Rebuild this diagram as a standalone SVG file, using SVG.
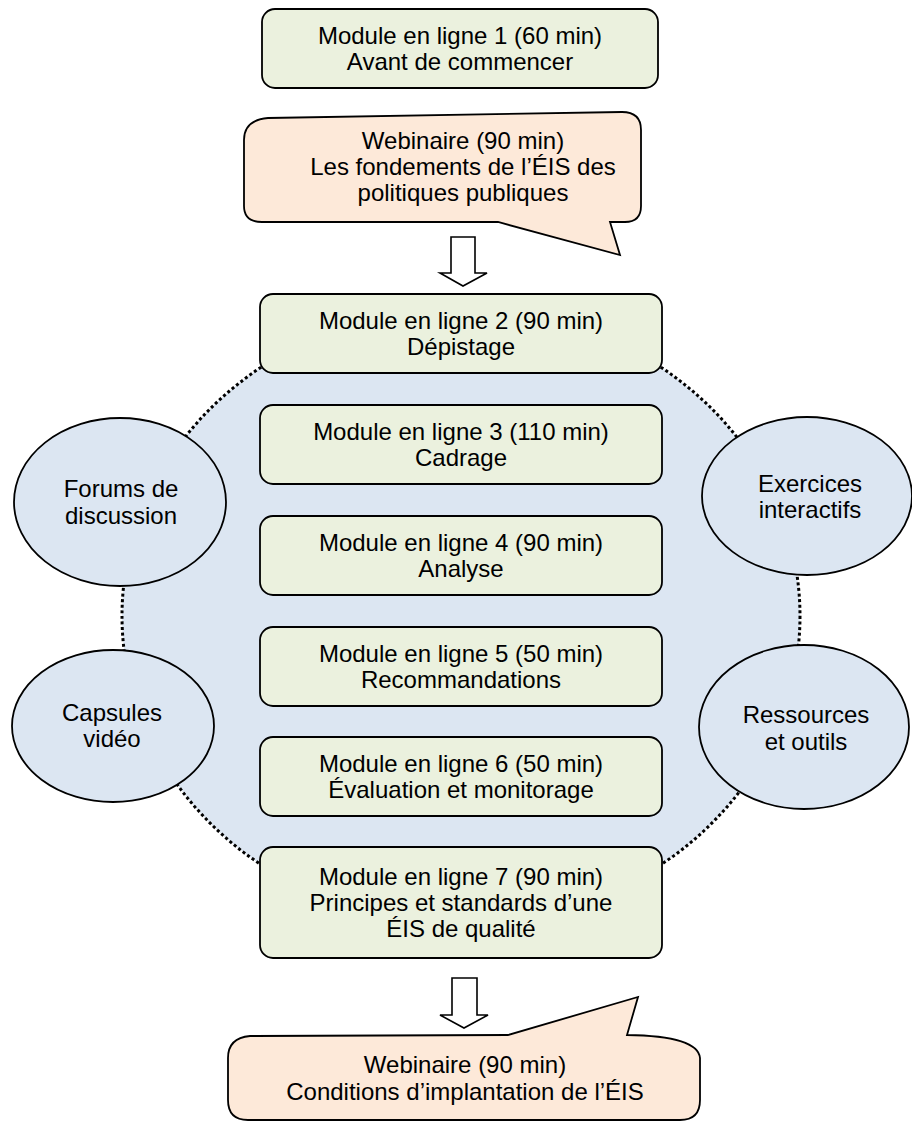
<svg xmlns="http://www.w3.org/2000/svg" width="912" height="1125" viewBox="0 0 912 1125">
<style>
text{font-family:"Liberation Sans",Arial,sans-serif;font-size:24px;fill:#000;text-anchor:middle}
.mod{fill:#EBF1DE;stroke:#000;stroke-width:1.8}
.web{fill:#FDE9D9;stroke:#000;stroke-width:1.8;stroke-linejoin:miter}
.ell{fill:#DCE6F2;stroke:#000;stroke-width:1.8}
.arr{fill:#fff;stroke:#000;stroke-width:1.6;stroke-linejoin:miter}
.bg{fill:#DCE6F2;stroke:#000;stroke-width:3;stroke-dasharray:3 2.6}
</style>
<rect width="912" height="1125" fill="#fff"/>
<g id="background">
<ellipse class="bg" cx="461" cy="616" rx="339" ry="308"/>
</g>
<g id="connectors">
<path class="arr" d="M451,237 H475 V273 H487 L463,286 L440,273 H451 Z"/>
<path class="arr" d="M452,978 H477 V1015 H488 L464,1028 L440,1015 H452 Z"/>
</g>
<g id="module1">
<rect class="mod" x="262" y="9" width="396" height="79" rx="13"/>
<text x="460" y="44">Module en ligne 1 (60 min)</text>
<text x="460" y="70">Avant de commencer</text>
</g>
<g id="webinaire1">
<path class="web" d="M244,140 Q244,120 268,118 L622,112 Q641,112 641,130 L641,206 Q641,222 625,222 L610,222 L620,255 L498,222 L262,222 Q244,222 244,206 Z"/>
<text x="463" y="149">Webinaire (90 min)</text>
<text x="463" y="175">Les fondements de l’ÉIS des</text>
<text x="463" y="201">politiques publiques</text>
</g>
<g id="module2">
<rect class="mod" x="260" y="294" width="402" height="79" rx="13"/>
<text x="461" y="329">Module en ligne 2 (90 min)</text>
<text x="461" y="355">Dépistage</text>
</g>
<g id="module3">
<rect class="mod" x="260" y="405" width="402" height="79" rx="13"/>
<text x="461" y="440">Module en ligne 3 (110 min)</text>
<text x="461" y="466">Cadrage</text>
</g>
<g id="module4">
<rect class="mod" x="260" y="516" width="402" height="79" rx="13"/>
<text x="461" y="551">Module en ligne 4 (90 min)</text>
<text x="461" y="577">Analyse</text>
</g>
<g id="module5">
<rect class="mod" x="260" y="627" width="402" height="79" rx="13"/>
<text x="461" y="662">Module en ligne 5 (50 min)</text>
<text x="461" y="688">Recommandations</text>
</g>
<g id="module6">
<rect class="mod" x="260" y="737" width="402" height="79" rx="13"/>
<text x="461" y="772">Module en ligne 6 (50 min)</text>
<text x="461" y="798">Évaluation et monitorage</text>
</g>
<g id="module7">
<rect class="mod" x="260" y="847" width="402" height="111" rx="13"/>
<text x="461" y="885">Module en ligne 7 (90 min)</text>
<text x="461" y="911">Principes et standards d’une</text>
<text x="461" y="937">ÉIS de qualité</text>
</g>
<g id="forums">
<ellipse class="ell" cx="120" cy="502" rx="106" ry="84"/>
<text x="121" y="497">Forums de</text>
<text x="121" y="524">discussion</text>
</g>
<g id="exercices">
<ellipse class="ell" cx="807" cy="496" rx="105" ry="79"/>
<text x="810" y="492">Exercices</text>
<text x="810" y="518">interactifs</text>
</g>
<g id="capsules">
<ellipse class="ell" cx="113" cy="726" rx="101" ry="76"/>
<text x="112" y="721">Capsules</text>
<text x="112" y="747">vidéo</text>
</g>
<g id="ressources">
<ellipse class="ell" cx="804" cy="727" rx="105" ry="82"/>
<text x="806" y="723">Ressources</text>
<text x="806" y="750">et outils</text>
</g>
<g id="webinaire2">
<path class="web" d="M228,1058 Q228,1038 250,1036 L508,1035 L638,997 L627,1035 Q698,1036 700,1058 L700,1100 Q700,1120 680,1120 L248,1120 Q228,1120 228,1100 Z"/>
<text x="465" y="1073">Webinaire (90 min)</text>
<text x="465" y="1100">Conditions d’implantation de l’ÉIS</text>
</g>
</svg>
